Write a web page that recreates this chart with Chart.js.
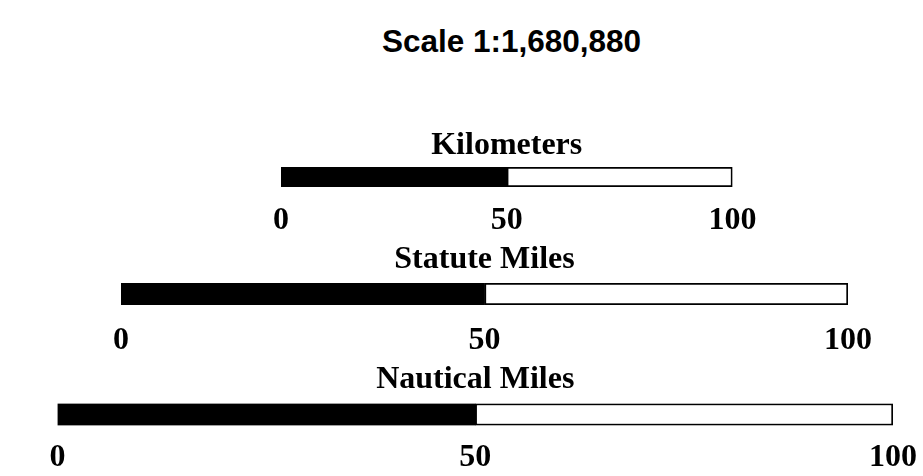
<!DOCTYPE html>
<html>
<head>
<meta charset="utf-8">
<script src="https://cdn.jsdelivr.net/npm/chart.js@4"></script>
<style>
  html, body { margin: 0; padding: 0; background: #ffffff; overflow: hidden; }
  #wrap { position: relative; width: 923px; height: 476px; overflow: hidden; }
  #wrap canvas { position: absolute; left: 0; top: 0; }
  #mainTitle { position: absolute; left: 0; top: 23px; width: 1023px; text-align: center;
    font: bold 31.5px "Liberation Sans", Arial, sans-serif; line-height: 36px; color: #000; }
</style>
</head>
<body>
<div id="wrap">
  <div id="mainTitle"></div>
  <canvas id="c0" width="1000" height="476"></canvas>
  <canvas id="c1" width="1000" height="476"></canvas>
  <canvas id="c2" width="1000" height="476"></canvas>
</div>
<script>
// ---- data ----
const scaleTitle = 'Scale 1:1,680,880';
const units = ['Kilometers', 'Statute Miles', 'Nautical Miles'];
const tickValues = [0, 50, 100];
const blackSegment = [50, 50, 50];   // 0 -> 50 (filled)
const whiteSegment = [50, 50, 50];   // 50 -> 100 (open)

// ---- layout (where each scale bar sits on the page) ----
const CANVAS_W = 1000;
const layouts = [
  { left: 281,  barRight: 732.5, top: 126.3, titleGap: 2.3, tickPad: 15.0, axisH: 51.2, bottom: 237.8 },
  { left: 121,  barRight: 848,   top: 241.0, titleGap: 3.6, tickPad: 17.0, axisH: 53.7, bottom: 117.3 },
  { left: 57.5, barRight: 893,   top: 361.0, titleGap: 4.1, tickPad: 13.3, axisH: 49.2, bottom: 1.3 }
];

document.getElementById('mainTitle').textContent = scaleTitle;

const serif = { family: '"Liberation Serif", "Times New Roman", serif', weight: 'bold', size: 32, lineHeight: 1.2 };

units.forEach((unit, i) => {
  const L = layouts[i];
  new Chart(document.getElementById('c' + i), {
    type: 'bar',
    data: {
      labels: [unit],
      datasets: [
        { data: [blackSegment[i]], backgroundColor: '#000000', borderColor: '#000000', borderWidth: 0,
          barPercentage: 1, categoryPercentage: 1 },
        { data: [whiteSegment[i]], backgroundColor: '#ffffff', borderColor: '#000000', borderWidth: 2,
          borderSkipped: false, barPercentage: 1, categoryPercentage: 1 }
      ]
    },
    options: {
      indexAxis: 'y',
      responsive: false,
      animation: false,
      events: [],
      layout: { padding: { left: L.left, right: CANVAS_W - L.barRight, top: L.top, bottom: L.bottom } },
      plugins: {
        legend: { display: false },
        tooltip: { enabled: false },
        title: { display: true, text: unit, color: '#000', font: serif,
                 padding: { top: 0, bottom: L.titleGap } }
      },
      scales: {
        x: {
          type: 'linear', stacked: true, min: 0, max: 100,
          afterBuildTicks: (s) => { s.ticks = tickValues.map(v => ({ value: v })); },
          afterFit: (s) => { s.height = L.axisH; },
          ticks: { color: '#000', font: serif, padding: L.tickPad, maxRotation: 0, autoSkip: false },
          grid: { display: false, drawTicks: false },
          border: { display: false }
        },
        y: { stacked: true, display: false }
      }
    }
  });
});
</script>
</body>
</html>
